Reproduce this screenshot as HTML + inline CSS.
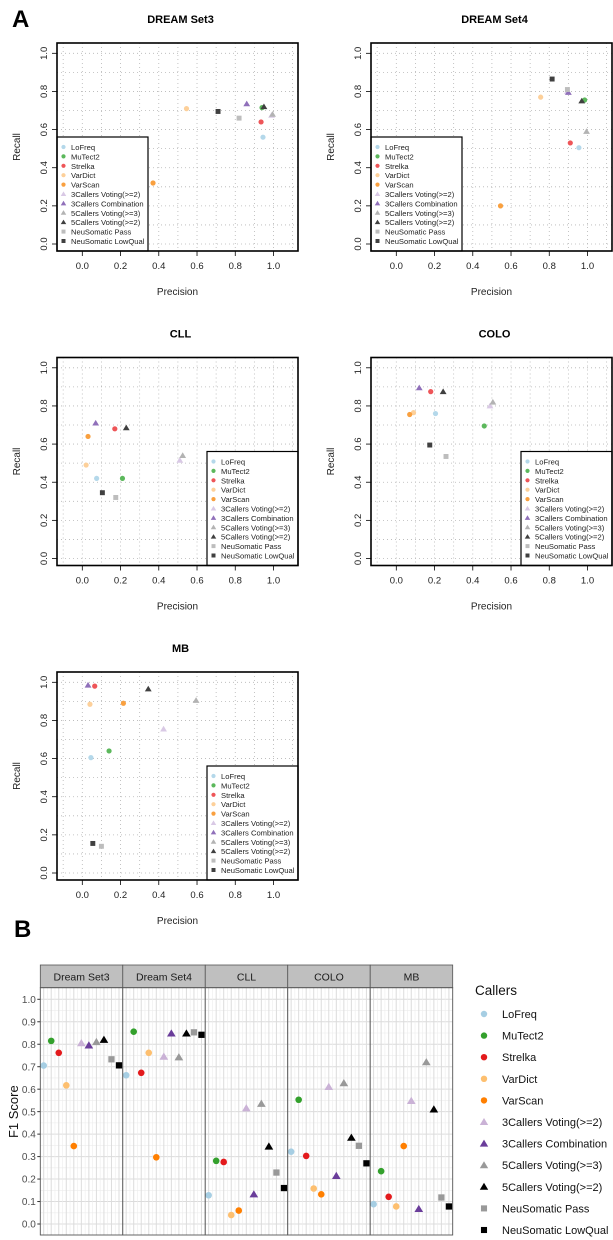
<!DOCTYPE html>
<html><head><meta charset="utf-8"><style>
html,body{margin:0;padding:0;background:#fff;}
svg{display:block;font-family:"Liberation Sans",Arial,sans-serif;}
</style></head><body>
<svg id="fig" width="613" height="1240" viewBox="0 0 613 1240">
<text x="12" y="27" font-size="24" font-weight="bold">A</text>
<text x="14" y="937" font-size="24" font-weight="bold">B</text>
<g id="panelA"></g>
<g id="panelB"></g>
</svg>
<script>
const callers = ["LoFreq","MuTect2","Strelka","VarDict","VarScan","3Callers Voting(>=2)","3Callers Combination","5Callers Voting(>=3)","5Callers Voting(>=2)","NeuSomatic Pass","NeuSomatic LowQual"];
const shapes = ["c","c","c","c","c","t","t","t","t","s","s"];
const colorsA = ["#b4d8ea","#5cb85c","#ee5558","#fdd09a","#f9a03f","#d9c9e5","#9070ba","#b3b3b3","#404040","#bdbdbd","#404040"];
const colorsB = ["#a6cee3","#33a02c","#e31a1c","#fdbf6f","#ff7f00","#cab2d6","#6a3d9a","#999999","#000000","#999999","#000000"];
const datasetsA = ["DREAM Set3","DREAM Set4","CLL","COLO","MB"];
const precSet3 = [0.945,0.94,0.935,0.545,0.37,0.99,0.86,0.995,0.95,0.82,0.71];
const recSet3  = [0.56,0.715,0.64,0.71,0.32,0.675,0.735,0.68,0.72,0.66,0.695];
const precSet4 = [0.955,0.985,0.91,0.755,0.545,0.895,0.9,0.995,0.97,0.895,0.815];
const recSet4  = [0.505,0.755,0.53,0.77,0.2,0.8,0.795,0.59,0.75,0.81,0.865];
const precCLL  = [0.075,0.21,0.17,0.02,0.03,0.51,0.07,0.525,0.23,0.175,0.105];
const recCLL   = [0.42,0.42,0.68,0.49,0.64,0.515,0.71,0.54,0.685,0.32,0.345];
const precCOLO = [0.205,0.46,0.18,0.09,0.07,0.49,0.12,0.505,0.245,0.26,0.175];
const recCOLO  = [0.76,0.695,0.875,0.765,0.755,0.8,0.895,0.82,0.875,0.535,0.595];
const precMB   = [0.045,0.14,0.065,0.04,0.215,0.425,0.03,0.595,0.345,0.1,0.055];
const recMB    = [0.605,0.64,0.98,0.885,0.89,0.755,0.985,0.905,0.965,0.14,0.155];
const precAll = [precSet3,precSet4,precCLL,precCOLO,precMB];
const recAll = [recSet3,recSet4,recCLL,recCOLO,recMB];
const axisTicks = ["0.0","0.2","0.4","0.6","0.8","1.0"];
const facetsB = ["Dream Set3","Dream Set4","CLL","COLO","MB"];
const f1Set3 = [0.705,0.815,0.762,0.617,0.347,0.805,0.795,0.81,0.82,0.733,0.706];
const f1Set4 = [0.662,0.856,0.673,0.762,0.297,0.745,0.848,0.742,0.848,0.853,0.842];
const f1CLL  = [0.128,0.281,0.276,0.04,0.06,0.515,0.132,0.535,0.345,0.229,0.16];
const f1COLO = [0.322,0.553,0.303,0.158,0.132,0.61,0.214,0.627,0.384,0.348,0.27];
const f1MB   = [0.088,0.235,0.121,0.078,0.347,0.548,0.067,0.72,0.51,0.118,0.078];
const f1All = [f1Set3,f1Set4,f1CLL,f1COLO,f1MB];
const f1Ticks = ["0.0","0.1","0.2","0.3","0.4","0.5","0.6","0.7","0.8","0.9","1.0"];

const NS="http://www.w3.org/2000/svg";
function mk(tag,attrs,parent){const e=document.createElementNS(NS,tag);for(const k in attrs)e.setAttribute(k,attrs[k]);parent.appendChild(e);return e;}
function marker(parent,shape,cx,cy,sz,color){
  let e;
  if(shape==="c"){e=mk("circle",{cx:cx,cy:cy,r:sz,fill:color},parent);}
  else if(shape==="t"){const h=sz*1.25;e=mk("polygon",{points:`${cx},${cy-h} ${cx-h*1.05},${cy+h*0.75} ${cx+h*1.05},${cy+h*0.75}`,fill:color},parent);}
  else {const s=sz*0.95;e=mk("rect",{x:cx-s,y:cy-s,width:2*s,height:2*s,fill:color},parent);}
  return e;
}
// Panel A
const pA=document.getElementById("panelA");
datasetsA.forEach((ds,d)=>{
  const col=d%2,row=Math.floor(d/2);
  const ox=col*314, oy=row*314.5;
  const g=mk("g",{},pA);
  
  
  const x0=82.3+ox, xs=191.2, y0=244+oy, ys=190.7;
  const X=v=>x0+v*xs, Y=v=>y0-v*ys;
  const L=57+ox,R=298+ox,T=43+oy,B=251+oy;
  const t=mk("text",{x:(L+R)/2+3,y:T-20,"font-size":11,"font-weight":"bold","text-anchor":"middle"},g);t.textContent=ds;
  
  // grid
  for(let i=-1;i<=11;i++){const v=i/10;const x=X(v);if(x>L&&x<R)mk("line",{x1:x,x2:x,y1:T,y2:B,stroke:"#b5b5b5","stroke-width":0.8,"stroke-dasharray":"1 3"},g);}
  for(let i=0;i<=10;i++){const y=Y(i/10);mk("line",{x1:L,x2:R,y1:y,y2:y,stroke:"#b5b5b5","stroke-width":0.8,"stroke-dasharray":"1 3"},g);}
  // ticks
  axisTicks.forEach((lab,i)=>{const v=i*0.2;const x=X(v),y=Y(v);
    mk("line",{x1:x,x2:x,y1:B,y2:B+5,stroke:"#000","stroke-width":0.8},g);
    const tx=mk("text",{x:x,y:B+18,"font-size":9.5,"text-anchor":"middle",fill:"#222"},g);tx.textContent=lab;
    
    mk("line",{x1:L,x2:L-5,y1:y,y2:y,stroke:"#000","stroke-width":0.8},g);
    const ty=mk("text",{x:0,y:0,"font-size":9.5,"text-anchor":"middle",fill:"#222",transform:`translate(${L-10},${y}) rotate(-90)`},g);ty.textContent=lab;
    
  });
  const xl=mk("text",{x:(L+R)/2,y:B+44,"font-size":10,"text-anchor":"middle",fill:"#222"},g);xl.textContent="Precision";
  
  const yl=mk("text",{x:0,y:0,"font-size":10,"text-anchor":"middle",fill:"#222",transform:`translate(${L-37},${(T+B)/2}) rotate(-90)`},g);yl.textContent="Recall";
  
  // points
  callers.forEach((c,i)=>{const m=marker(g,shapes[i],X(precAll[d][i]),Y(recAll[d][i]),2.6,colorsA[i]);
    });
  // legend
  const lw=91,lh=114;
  const lx = d<2 ? L : R-lw, ly = B-lh;
  const lg=mk("g",{},g);
  mk("rect",{x:lx,y:ly,width:lw,height:lh,fill:"#fff",stroke:"#000","stroke-width":1.2},lg);
  callers.forEach((c,i)=>{const yy=ly+10+i*9.4;
    marker(lg,shapes[i],lx+6.5,yy,2.1,colorsA[i]);
    const tt=mk("text",{x:lx+14,y:yy+3,"font-size":7.6,fill:"#222"},lg);tt.textContent=c;
    });
  mk("rect",{x:L,y:T,width:R-L,height:B-T,fill:"none",stroke:"#000","stroke-width":1.6},g);
});
// Panel B
const pB=document.getElementById("panelB");
const bL=40.3,fw=82.48,sT=965,sB=987.7,bB=1235;
const by0=1224,bys=224.7;
const YB=v=>by0-v*bys;
const catW=7.53,catOff=0.45;
const XB=(f,i)=>bL+f*fw+(i+catOff)*catW;
facetsB.forEach((fc,f)=>{
  const g=mk("g",{},pB);
  
  
  const fl=bL+f*fw, fr=fl+fw;
  mk("rect",{x:fl,y:sB,width:fw,height:bB-sB,fill:"#fff"},g);
  for(let k=0;k<=20;k++){const v=k*0.05;const y=YB(v);if(y>sB&&y<bB)mk("line",{x1:fl,x2:fr,y1:y,y2:y,stroke:k%2?"#ececec":"#dcdcdc","stroke-width":k%2?0.6:1},g);}
  for(let i=-0.5;i<=10.5;i+=0.5){const x=XB(f,i);if(x>fl&&x<fr)mk("line",{x1:x,x2:x,y1:sB,y2:bB,stroke:Number.isInteger(i)?"#dcdcdc":"#ececec","stroke-width":Number.isInteger(i)?1:0.6},g);}
  mk("rect",{x:fl,y:sT,width:fw,height:sB-sT,fill:"#bfbfbf",stroke:"#555","stroke-width":0.8},g);
  const st=mk("text",{x:fl+fw/2,y:sT+15.5,"font-size":10.5,"text-anchor":"middle",fill:"#1a1a1a"},g);st.textContent=fc;
  
  callers.forEach((c,i)=>{const m=marker(g,shapes[i],XB(f,i),YB(f1All[f][i]),3.3,colorsB[i]);
    });
  mk("rect",{x:fl,y:sB,width:fw,height:bB-sB,fill:"none",stroke:"#555","stroke-width":0.9},g);
});
f1Ticks.forEach((lab,k)=>{const y=YB(k*0.1);
  mk("line",{x1:bL-3,x2:bL,y1:y,y2:y,stroke:"#333","stroke-width":1},pB);
  const t=mk("text",{x:bL-4.5,y:y+3.6,"font-size":10,"text-anchor":"end",fill:"#4d4d4d"},pB);t.textContent=lab;
  });
const yt=mk("text",{x:0,y:0,"font-size":13,"text-anchor":"middle",fill:"#111",transform:`translate(18,${YB(0.5)}) rotate(-90)`},pB);yt.textContent="F1 Score";

const lgB=mk("g",{},pB);
const lt=mk("text",{x:475,y:995,"font-size":13.5,fill:"#111"},lgB);lt.textContent="Callers";

callers.forEach((c,i)=>{const yy=1014+i*21.6;
  marker(lgB,shapes[i],484,yy,3.2,colorsB[i]);
  const t=mk("text",{x:502,y:yy+4,"font-size":11,fill:"#111"},lgB);t.textContent=c;
  });
</script>
</body></html>
